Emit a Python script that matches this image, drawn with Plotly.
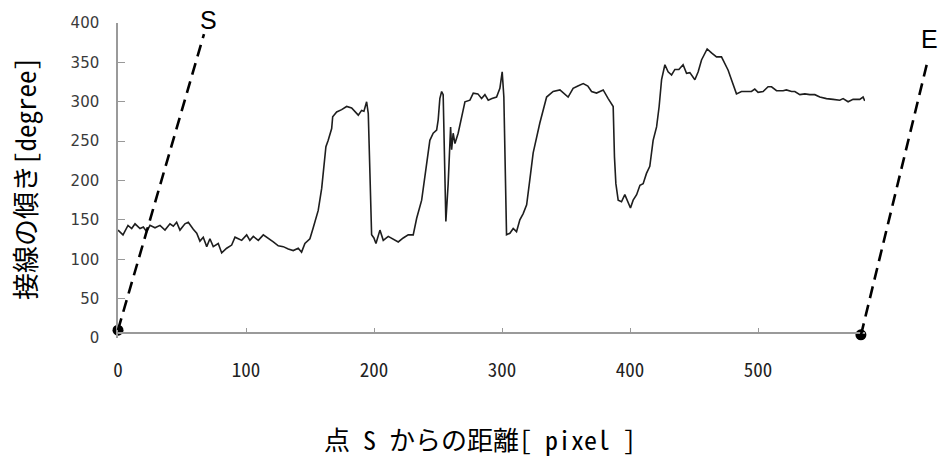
import plotly.graph_objects as go

# distance from point S [pixel]
distance = [
    0, 3.9, 7.8, 10.7, 13.3, 17.2, 19.8, 22.4, 25.0, 28.9, 32.8, 36.7, 40.6, 43.2, 45.8,
    48.4, 52.3, 54.9, 58.8, 61.5, 64.0, 66.6, 69.3, 71.8, 74.4, 78.3, 81.0, 84.9, 88.8,
    91.4, 94.0, 96.6, 100.5, 103.0, 105.7, 109.6, 113.5, 117.4, 121.3, 125.2, 129.1,
    133.0, 136.9, 140.8, 143.4, 146.0, 149.9, 152.5, 156.4, 159.1, 160.9, 162.4, 164.2,
    166.9, 167.7, 170.8, 174.7, 178.6, 182.5, 185.1, 187.7, 190.3, 192.1, 194.2, 195.5,
    196.8, 198.1, 199.9, 201.5, 204.6, 207.2, 211.1, 216.3, 218.9, 222.8, 226.7, 230.6,
    233.3, 237.2, 239.7, 243.6, 246.2, 248.9, 250.1, 251.4, 252.8, 254.0, 256.1, 257.9,
    259.8, 260.6, 261.8, 263.2, 265.7, 269.6, 271.0, 274.9, 277.5, 281.1, 284.0, 286.6,
    289.2, 292.1, 295.7, 298.3, 300.1, 301.4, 303.5, 306.1, 308.7, 311.3, 313.9, 316.5,
    319.2, 321.7, 324.3, 329.5, 334.8, 339.9, 345.2, 351.6, 355.5, 359.2, 363.4, 367.0,
    369.9, 373.8, 379.0, 382.9, 386.8, 387.8, 388.9, 390.7, 393.3, 395.9, 398.3, 400.3,
    402.4, 405.1, 407.7, 410.2, 412.8, 415.4, 418.0, 420.7, 422.7, 424.6, 427.2, 429.7,
    432.4, 435.0, 438.1, 441.4, 444.1, 446.7, 450.6, 453.2, 455.8, 460.2, 463.6, 467.5,
    471.4, 475.3, 476.6, 479.2, 483.1, 487.0, 490.9, 494.8, 497.4, 500.0, 503.9, 507.8,
    510.5, 514.4, 519.5, 522.1, 526.1, 528.7, 532.6, 536.5, 540.4, 544.3, 548.2, 553.4,
    558.6, 563.8, 566.4, 570.3, 574.2, 579.4, 582.0, 583.3,
]

# tangent angle [degree]
angle = [
    137, 131, 143, 139, 145, 139, 141, 135, 143, 140, 143, 137, 145, 142, 147,
    137, 145, 147, 138, 133, 123, 128, 116, 126, 116, 120, 108, 114, 118,
    128, 126, 124, 131, 124, 129, 124, 131, 127, 122, 117, 116,
    113, 111, 114, 109, 120, 126, 140, 162, 190, 220, 243, 251,
    266, 281, 287, 290, 294, 292, 287, 283, 289, 288, 300, 285,
    209, 131, 127, 120, 137, 124, 129, 124, 122, 127, 131, 131,
    152, 175, 205, 251, 260, 264, 277, 304, 313, 309, 148, 196,
    268, 239, 260, 247, 260, 287, 300, 302, 311, 310, 304, 309,
    302, 304, 306, 317, 338, 306, 131, 133, 139, 135, 150, 158,
    169, 201, 235, 273, 306, 313, 315, 306, 317, 320, 323, 320,
    313, 311, 315, 304, 294, 230, 196, 175, 173, 182, 172, 165,
    175, 182, 194, 196, 209, 218, 251, 268, 294, 328, 347, 338,
    334, 341, 341, 347, 336, 337, 328, 338, 353, 367, 362, 357,
    357, 345, 340, 328, 310, 313, 313, 313, 316, 312, 313, 319,
    319, 314, 314, 315, 313, 313, 309, 310, 309, 309, 306, 304,
    303, 302, 304, 300, 303, 303, 306, 301,
]

x_ticks = [0, 100, 200, 300, 400, 500]
y_ticks = [0, 50, 100, 150, 200, 250, 300, 350, 400]

# end points S and E of the curve
point_labels = ["S", "E"]
point_x = [0, 580.3]
point_y = [10, 4]

x_title = "点 S からの距離[ pixel ]"
y_title = "接線の傾き[degree]"

mono_jp = "Noto Sans Mono CJK JP, Noto Sans CJK JP, sans-serif"

fig = go.Figure()
fig.add_trace(go.Scatter(
    x=distance, y=angle, mode="lines",
    line=dict(color="#1e1e1e", width=1.6),
    hoverinfo="skip",
))
fig.add_trace(go.Scatter(
    x=point_x, y=point_y, mode="markers",
    marker=dict(color="black", size=11),
    cliponaxis=False, hoverinfo="skip",
))

dash_line = dict(color="black", width=2.6, dash="12px,7px")
fig.add_shape(type="line", xref="paper", yref="paper",
              x0=0.0, y0=0.0254, x1=0.1151, y1=0.965, line=dash_line)
fig.add_shape(type="line", xref="paper", yref="paper",
              x0=0.9946, y0=0.0095, x1=1.0847, y1=0.888, line=dash_line)

label_font = dict(family="Liberation Sans, Arial, sans-serif", size=25, color="black")
fig.add_annotation(text=point_labels[0], xref="paper", yref="paper", x=0.1205, y=1.011,
                   showarrow=False, font=label_font, xanchor="center", yanchor="middle")
fig.add_annotation(text=point_labels[1], xref="paper", yref="paper", x=1.087, y=0.949,
                   showarrow=False, font=label_font, xanchor="center", yanchor="middle")

fig.add_annotation(text=x_title, xref="paper", yref="paper", x=0.4846, y=-0.3175,
                   showarrow=False, xanchor="center", yanchor="middle",
                   font=dict(family=mono_jp, size=26, color="black"))
fig.add_annotation(text=y_title, xref="paper", yref="paper", x=-0.1245, y=0.508,
                   showarrow=False, xanchor="center", yanchor="middle", textangle=-90,
                   font=dict(family=mono_jp, size=27, color="black"))

fig.update_layout(
    width=942, height=458,
    margin=dict(l=118, r=77, t=23, b=120),
    plot_bgcolor="white", paper_bgcolor="white",
    showlegend=False,
    xaxis=dict(
        range=[0, 583.5], tickvals=x_ticks, ticktext=[str(v) for v in x_ticks],
        ticks="inside", ticklen=5, tickcolor="#999", tickwidth=1,
        showline=True, linecolor="#9a9a9a", linewidth=1.5,
        showgrid=False, zeroline=False,
        anchor="free", position=0.0143,
        tickfont=dict(family=mono_jp, size=19, color="#222"),
        ticklabelstandoff=20,
    ),
    yaxis=dict(
        range=[0, 400], tickvals=y_ticks,
        ticks="inside", ticklen=7, tickcolor="#999", tickwidth=1,
        showline=True, linecolor="#9a9a9a", linewidth=1.5,
        showgrid=False, zeroline=False,
        tickfont=dict(family="DejaVu Sans, sans-serif", size=15, color="#3a3a3a"),
        ticklabelstandoff=14,
    ),
)

fig.write_html("out.html")
